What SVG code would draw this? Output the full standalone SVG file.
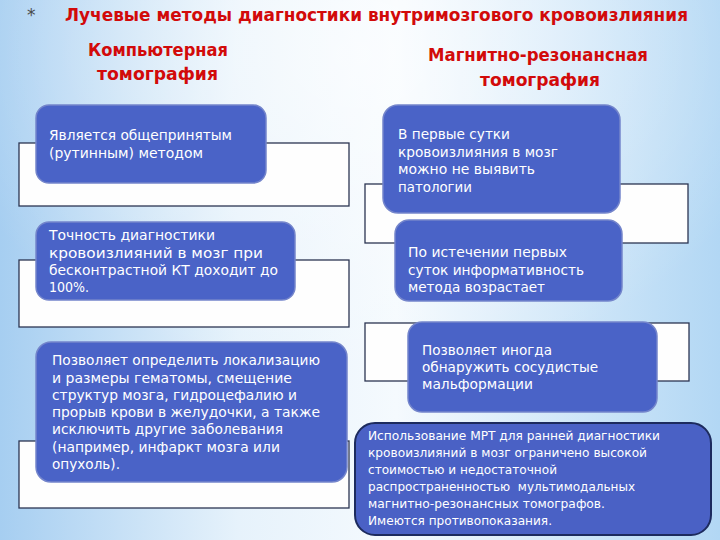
<svg xmlns="http://www.w3.org/2000/svg" width="720" height="540" viewBox="0 0 720 540">
<defs>
<linearGradient id="bg" x1="0" y1="0" x2="1" y2="0">
<stop offset="0" stop-color="#a6cef1"/>
<stop offset="0.33" stop-color="#e6f2fb"/>
<stop offset="0.55" stop-color="#f5fafe"/>
<stop offset="1" stop-color="#b2d7f4"/>
</linearGradient>
<radialGradient id="glow" cx="0.5" cy="0.1" r="0.6">
<stop offset="0" stop-color="#ffffff" stop-opacity="0.6"/>
<stop offset="1" stop-color="#ffffff" stop-opacity="0"/>
</radialGradient>
<style>
.frame{fill:#fefefe;stroke:#2b3552;stroke-width:1.3}
.box{fill:#4a63c7;stroke:#7485cb;stroke-width:1.5}
.boxd{fill:#4a61c5;stroke:#1d2b5e;stroke-width:2}
.t{font-family:"DejaVu Sans","Liberation Sans",sans-serif;fill:#ffffff;font-size:14px}
.td{font-family:"DejaVu Sans","Liberation Sans",sans-serif;fill:#ffffff;font-size:12px}
.h{font-family:"DejaVu Sans","Liberation Sans",sans-serif;fill:#d20a0a;font-weight:bold;font-size:17px}
</style>
</defs>
<rect x="0" y="0" width="720" height="540" fill="url(#bg)"/>
<rect x="0" y="0" width="720" height="540" fill="url(#glow)"/>

<g id="title">
<text x="27" y="21" font-family="DejaVu Sans, sans-serif" font-size="17" fill="#4a4a4a">*</text>
<text class="h" x="65" y="21" textLength="623" lengthAdjust="spacingAndGlyphs">Лучевые методы диагностики внутримозгового кровоизлияния</text>
</g>
<g id="head-ct">
<text class="h" x="88" y="56" textLength="140" lengthAdjust="spacingAndGlyphs">Компьютерная</text>
<text class="h" x="97" y="80" textLength="121" lengthAdjust="spacingAndGlyphs">томография</text>
</g>
<g id="head-mri">
<text class="h" x="428" y="61" textLength="220" lengthAdjust="spacingAndGlyphs">Магнитно-резонансная</text>
<text class="h" x="480" y="86" textLength="120" lengthAdjust="spacingAndGlyphs">томография</text>
</g>

<g id="frame-l1"><rect class="frame" x="19" y="143" width="330" height="63"/></g>
<g id="frame-l2"><rect class="frame" x="19" y="260" width="330" height="67"/></g>
<g id="frame-l3"><rect class="frame" x="19" y="441" width="330" height="67"/></g>
<g id="frame-r1"><rect class="frame" x="365" y="184" width="323" height="59"/></g>
<g id="frame-r2"><rect class="frame" x="365" y="323" width="324" height="58"/></g>

<g id="connectors"></g>

<g id="ct-1">
<rect class="box" x="36" y="105" width="230" height="78" rx="13"/>
<text class="t" x="49" y="140" textLength="183" lengthAdjust="spacingAndGlyphs">Является общепринятым</text>
<text class="t" x="49" y="158" textLength="154" lengthAdjust="spacingAndGlyphs">(рутинным) методом</text>
</g>
<g id="ct-2">
<rect class="box" x="36" y="222" width="259" height="78" rx="13"/>
<text class="t" x="49" y="240" textLength="166" lengthAdjust="spacingAndGlyphs">Точность диагностики</text>
<text class="t" x="49" y="258" textLength="214" lengthAdjust="spacingAndGlyphs">кровоизлияний в мозг при</text>
<text class="t" x="49" y="275" textLength="229" lengthAdjust="spacingAndGlyphs">бесконтрастной КТ доходит до</text>
<text class="t" x="49" y="292" textLength="40" lengthAdjust="spacingAndGlyphs">100%.</text>
</g>
<g id="ct-3">
<rect class="box" x="36" y="342" width="311" height="140" rx="15"/>
<text class="t" x="52" y="365" textLength="268" lengthAdjust="spacingAndGlyphs">Позволяет определить локализацию</text>
<text class="t" x="52" y="383" textLength="240" lengthAdjust="spacingAndGlyphs">и размеры гематомы, смещение</text>
<text class="t" x="52" y="400" textLength="245" lengthAdjust="spacingAndGlyphs">структур мозга, гидроцефалию и</text>
<text class="t" x="52" y="417" textLength="268" lengthAdjust="spacingAndGlyphs">прорыв крови в желудочки, а также</text>
<text class="t" x="52" y="434" textLength="231" lengthAdjust="spacingAndGlyphs">исключить другие заболевания</text>
<text class="t" x="52" y="452" textLength="228" lengthAdjust="spacingAndGlyphs">(например, инфаркт мозга или</text>
<text class="t" x="52" y="469" textLength="68" lengthAdjust="spacingAndGlyphs">опухоль).</text>
</g>

<g id="mri-1">
<rect class="box" x="383" y="105" width="237" height="108" rx="15"/>
<text class="t" x="398" y="139" textLength="112" lengthAdjust="spacingAndGlyphs">В первые сутки</text>
<text class="t" x="398" y="157" textLength="160" lengthAdjust="spacingAndGlyphs">кровоизлияния в мозг</text>
<text class="t" x="398" y="174" textLength="137" lengthAdjust="spacingAndGlyphs">можно не выявить</text>
<text class="t" x="398" y="192" textLength="74" lengthAdjust="spacingAndGlyphs">патологии</text>
</g>
<g id="mri-2">
<rect class="box" x="395" y="220" width="227" height="81" rx="14"/>
<text class="t" x="408" y="257" textLength="159" lengthAdjust="spacingAndGlyphs">По истечении первых</text>
<text class="t" x="408" y="275" textLength="176" lengthAdjust="spacingAndGlyphs">суток информативность</text>
<text class="t" x="408" y="292" textLength="137" lengthAdjust="spacingAndGlyphs">метода возрастает</text>
</g>
<g id="mri-3">
<rect class="box" x="408" y="322" width="249" height="90" rx="14"/>
<text class="t" x="422" y="355" textLength="130" lengthAdjust="spacingAndGlyphs">Позволяет иногда</text>
<text class="t" x="422" y="372" textLength="176" lengthAdjust="spacingAndGlyphs">обнаружить сосудистые</text>
<text class="t" x="422" y="389" textLength="111" lengthAdjust="spacingAndGlyphs">мальформации</text>
</g>
<g id="mri-4">
<rect class="boxd" x="355" y="423" width="356" height="112" rx="20"/>
<text class="td" x="368" y="440" textLength="292" lengthAdjust="spacingAndGlyphs">Использование МРТ для ранней диагностики</text>
<text class="td" x="368" y="457" textLength="279" lengthAdjust="spacingAndGlyphs">кровоизлияний в мозг ограничено высокой</text>
<text class="td" x="368" y="474" textLength="189" lengthAdjust="spacingAndGlyphs">стоимостью и недостаточной</text>
<text class="td" x="368" y="491" textLength="267" lengthAdjust="spacingAndGlyphs" xml:space="preserve">распространенностью  мультимодальных</text>
<text class="td" x="368" y="508" textLength="237" lengthAdjust="spacingAndGlyphs">магнитно-резонансных томографов.</text>
<text class="td" x="368" y="525" textLength="184" lengthAdjust="spacingAndGlyphs">Имеются противопоказания.</text>
</g>
</svg>
